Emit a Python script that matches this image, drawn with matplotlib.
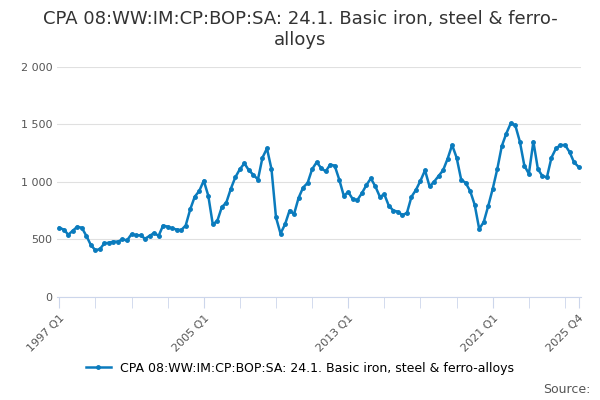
import matplotlib
matplotlib.use('Agg')
import matplotlib.pyplot as plt
import numpy as np

years = list(range(1997, 2026))
values = [600, 585, 540, 575, 610, 600, 530, 450, 405, 415, 465, 470,
          480, 480, 500, 490, 545, 535, 535, 505, 530, 555, 530, 620,
          610, 595, 585, 580, 620, 760, 870, 920, 1010, 880, 630, 660,
          780, 820, 940, 1040, 1110, 1160, 1100, 1060, 1020, 1210, 1290, 1110,
          690, 550, 630, 750, 720, 860, 950, 990, 1110, 1170, 1120, 1090,
          1150, 1140, 1020, 880, 910, 850, 840, 900, 970, 1030, 960, 870,
          890, 790, 750, 740, 710, 730, 870, 930, 1010, 1100, 960, 1000,
          1050, 1100, 1200, 1320, 1210, 1020, 990, 920, 800, 590, 650, 790,
          940, 1110, 1310, 1420, 1510, 1490, 1350, 1140, 1070, 1350, 1110, 1050,
          1040, 1210, 1290, 1320, 1320, 1260, 1170, 1130]
labels = [f"{y} Q{q}" for y in years for q in range(1, 5)]
x = np.arange(len(values))
color = '#0a7bbd'

fig = plt.figure(figsize=(6, 4), dpi=100)
ax = fig.add_axes([0.095, 0.258, 0.873, 0.575])
ax.plot(x, values, color=color, lw=1.8, marker='o', ms=2.5, label='CPA 08:WW:IM:CP:BOP:SA: 24.1. Basic iron, steel & ferro-alloys')
ax.set_xlim(-0.5, len(values) - 0.5)
ax.set_ylim(0, 2000)
ax.set_yticks([0, 500, 1000, 1500, 2000])
ax.set_yticklabels(['0', '500', '1 000', '1 500', '2 000'])
ax.grid(axis='y', color='#e0e0e0', lw=0.8)
ax.set_axisbelow(True)
major = [0, 32, 64, 96, 115]
ax.set_xticks(major)
ax.set_xticklabels([labels[i] for i in major], rotation=45, ha='right', rotation_mode='anchor')
ax.set_xticks(list(range(8, 115, 8)), minor=True)
ax.tick_params(axis='x', which='both', length=8, color='#ccd6eb', labelcolor='#555555', labelsize=8)
ax.tick_params(axis='y', length=0, labelcolor='#555555', labelsize=8)
for s in ['top', 'right', 'left']:
    ax.spines[s].set_visible(False)
ax.spines['bottom'].set_color('#ccd6eb')

fig.suptitle('CPA 08:WW:IM:CP:BOP:SA: 24.1. Basic iron, steel & ferro-\nalloys', y=0.975, fontsize=13, color='#333333')
fig.legend(loc='lower center', bbox_to_anchor=(0.5, 0.035), frameon=False, fontsize=9, handlelength=2)
fig.text(0.985, 0.01, 'Source:', ha='right', va='bottom', fontsize=9, color='#555555')
fig.savefig('out.png')
